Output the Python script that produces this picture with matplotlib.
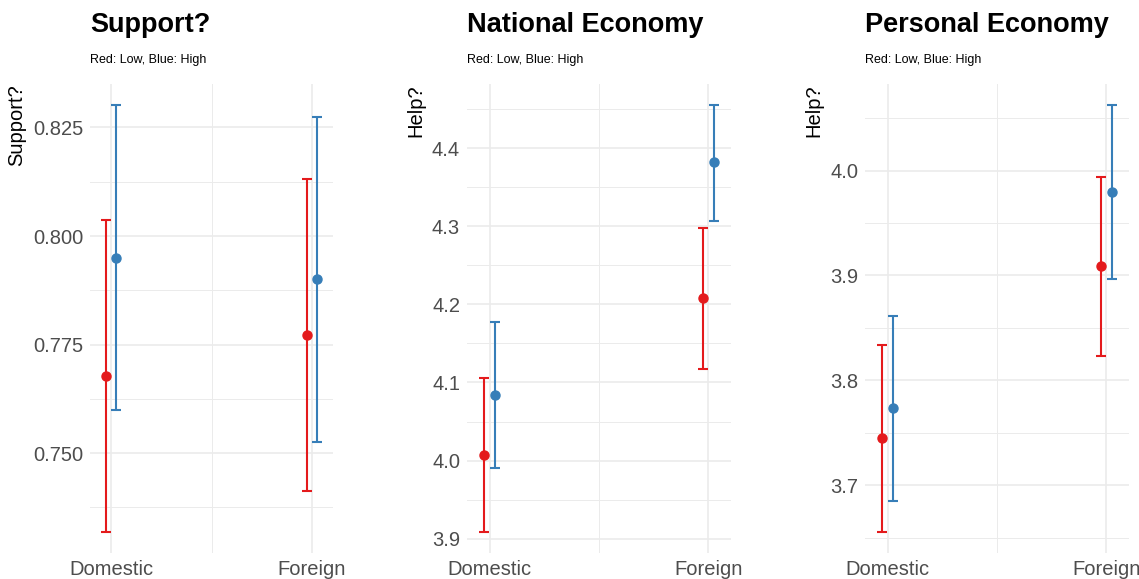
import numpy as np
import matplotlib.pyplot as plt
from matplotlib.ticker import MultipleLocator, FixedLocator, FormatStrFormatter

plt.rcParams['font.family'] = ['Liberation Sans', 'DejaVu Sans']

categories = ["Domestic", "Foreign"]
panel_titles = ["Support?", "National Economy", "Personal Economy"]
y_labels = ["Support?", "Help?", "Help?"]
subtitle = "Red: Low, Blue: High"

# estimates with interval bounds, one list entry per category
support_low = [0.7678, 0.7772]
support_low_lo = [0.7319, 0.7413]
support_low_hi = [0.8037, 0.8131]
support_high = [0.7949, 0.7900]
support_high_lo = [0.7599, 0.7526]
support_high_hi = [0.8301, 0.8275]

national_low = [4.0076, 4.2076]
national_low_lo = [3.9090, 4.1168]
national_low_hi = [4.1057, 4.2976]
national_high = [4.0840, 4.3816]
national_high_lo = [3.9905, 4.3066]
national_high_hi = [4.1768, 4.4548]

personal_low = [3.7450, 3.9088]
personal_low_lo = [3.6556, 3.8229]
personal_low_hi = [3.8340, 3.9940]
personal_high = [3.7732, 3.9800]
personal_high_lo = [3.6849, 3.8970]
personal_high_hi = [3.8610, 4.0623]

panels = [
    ((support_low, support_low_lo, support_low_hi),
     (support_high, support_high_lo, support_high_hi), 0.025, '%.3f'),
    ((national_low, national_low_lo, national_low_hi),
     (national_high, national_high_lo, national_high_hi), 0.1, '%.1f'),
    ((personal_low, personal_low_lo, personal_low_hi),
     (personal_high, personal_high_lo, personal_high_hi), 0.1, '%.1f'),
]

RED = '#E41A1C'
BLUE = '#377EB8'
GRID = '#EBEBEB'

fig = plt.figure(figsize=(11.39, 5.79), dpi=100)
W, H = 1139, 579
# axes boxes in pixels: left, width
boxes = [(90, 243), (467, 264), (865, 264)]
top_px, bottom_px = 84, 553

x = np.arange(1, len(categories) + 1)
dodge = 0.025
cap = 0.025

for (low, high, step, fmt), title, ylab, (left, width) in zip(panels, panel_titles, y_labels, boxes):
    ax = fig.add_axes([left / W, 1 - bottom_px / H, width / W, (bottom_px - top_px) / H])
    for (mean, lo, hi), off, col in ((low, -dodge, RED), (high, dodge, BLUE)):
        mean, lo, hi = map(np.asarray, (mean, lo, hi))
        ax.errorbar(x + off, mean, yerr=[mean - lo, hi - mean], fmt='o', color=col,
                    ms=6.5, elinewidth=1.5, capsize=3.6, capthick=1.5, zorder=3)

    xmin, xmax = x[0] - dodge - cap, x[-1] + dodge + cap
    pad = 0.05 * (xmax - xmin)
    ax.set_xlim(xmin - pad, xmax + pad)
    ax.set_xticks(x, categories)
    ax.xaxis.set_minor_locator(FixedLocator([1.5]))
    ax.yaxis.set_major_locator(MultipleLocator(step))
    ax.yaxis.set_minor_locator(MultipleLocator(step / 2))
    ax.yaxis.set_major_formatter(FormatStrFormatter(fmt))

    ax.grid(which='major', color=GRID, lw=1.2)
    ax.grid(which='minor', color=GRID, lw=0.7)
    ax.set_axisbelow(True)
    for s in ax.spines.values():
        s.set_visible(False)
    ax.tick_params(which='both', length=0, labelsize=14.5, labelcolor='#4D4D4D')
    ax.tick_params(axis='y', pad=5)
    ax.tick_params(axis='x', pad=5)

    ax.set_ylabel(ylab, fontsize=14.5, color='black', loc='top', labelpad=5)

    fig.text(left / W, 1 - 32.5 / H, title, fontsize=19.5, fontweight='bold',
             ha='left', va='baseline')
    fig.text(left / W, 1 - 62.7 / H, subtitle, fontsize=9, ha='left', va='baseline')

fig.savefig('out.png', dpi=100)
